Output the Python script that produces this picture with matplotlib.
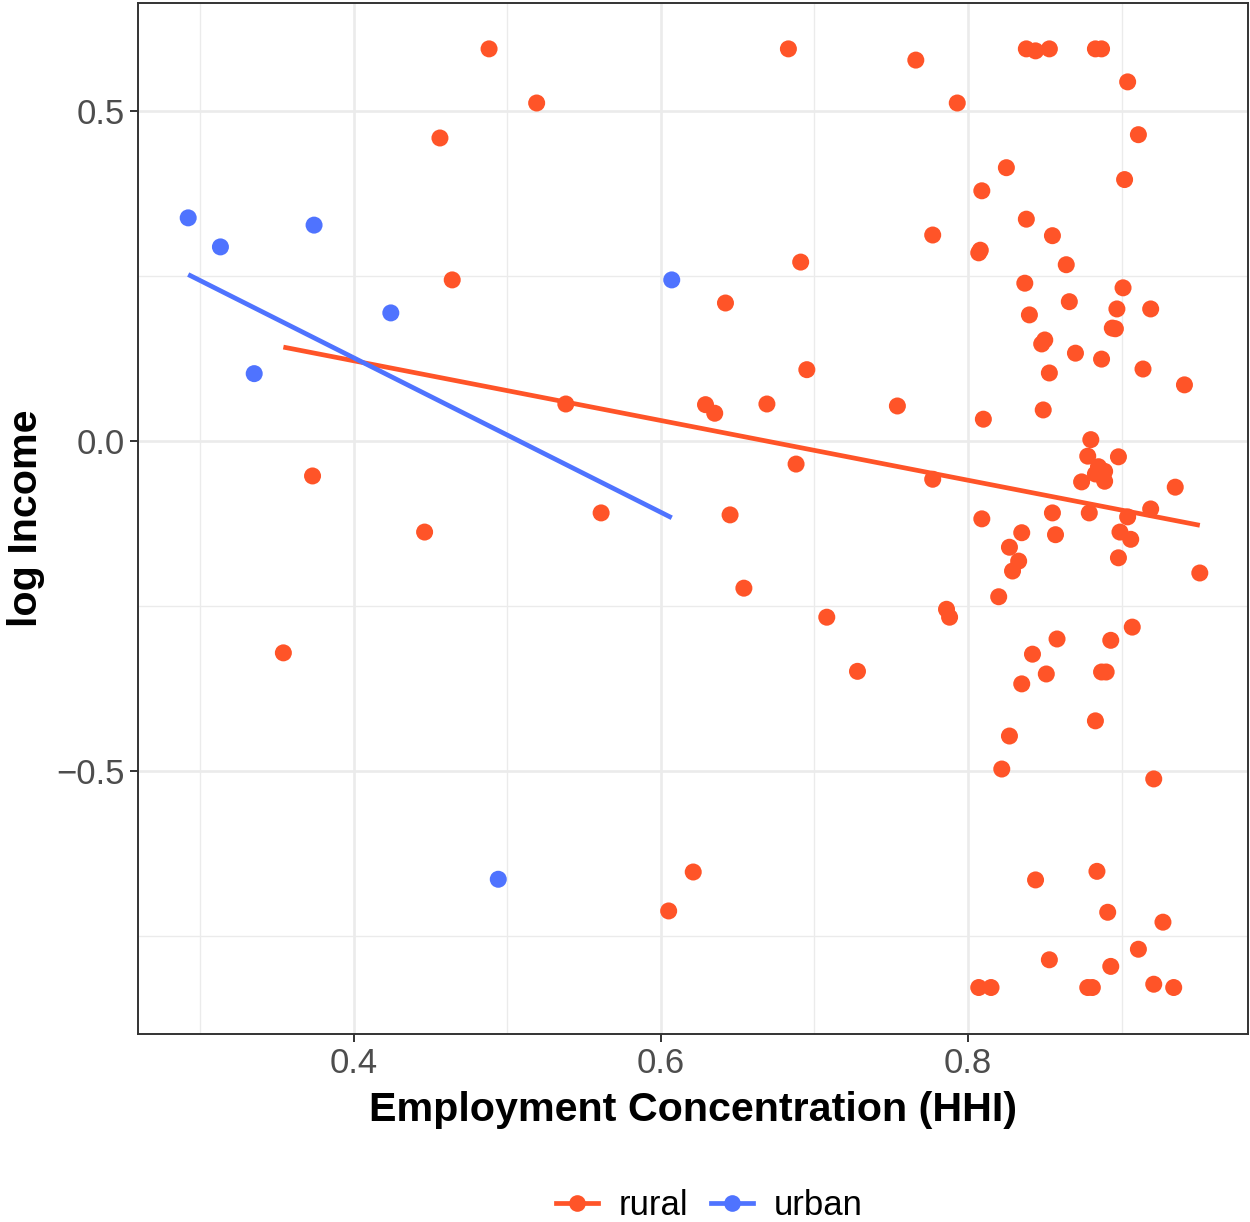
import numpy as np
import matplotlib
matplotlib.use("Agg")
import matplotlib.pyplot as plt
from matplotlib.lines import Line2D
from matplotlib.ticker import MultipleLocator

plt.rcParams['font.family'] = ['Liberation Sans', 'DejaVu Sans']

# county-level observations: employment HHI vs log income
rural_hhi = [
    0.488, 0.519, 0.456, 0.464, 0.373, 0.446, 0.354, 0.538, 0.561, 0.605,
    0.621, 0.642, 0.629, 0.635, 0.645, 0.654, 0.669, 0.683, 0.691, 0.695,
    0.688, 0.708, 0.728, 0.754, 0.766, 0.777, 0.777, 0.793, 0.786, 0.788,
    0.809, 0.808, 0.807, 0.810, 0.809, 0.807, 0.815, 0.825, 0.838, 0.844,
    0.853, 0.838, 0.837, 0.840, 0.855, 0.864, 0.866, 0.850, 0.848, 0.870,
    0.853, 0.887, 0.849, 0.883, 0.887, 0.904, 0.911, 0.902, 0.901, 0.919,
    0.897, 0.894, 0.896, 0.914, 0.941, 0.880, 0.878, 0.898, 0.885, 0.889,
    0.883, 0.874, 0.889, 0.935, 0.879, 0.855, 0.904, 0.919, 0.835, 0.857,
    0.899, 0.906, 0.827, 0.833, 0.829, 0.898, 0.951, 0.820, 0.858, 0.893,
    0.907, 0.842, 0.851, 0.887, 0.890, 0.835, 0.883, 0.827, 0.822, 0.921,
    0.884, 0.844, 0.891, 0.927, 0.911, 0.853, 0.893, 0.878, 0.881, 0.921,
    0.934,
]
rural_log_income = [
    0.594, 0.512, 0.459, 0.244, -0.053, -0.138, -0.321, 0.056, -0.109, -0.712,
    -0.653, 0.209, 0.055, 0.042, -0.112, -0.223, 0.056, 0.594, 0.271, 0.108,
    -0.035, -0.267, -0.349, 0.053, 0.577, 0.312, -0.058, 0.512, -0.255, -0.267,
    0.379, 0.289, 0.285, 0.033, -0.118, -0.828, -0.828, 0.414, 0.594, 0.591,
    0.594, 0.336, 0.239, 0.191, 0.311, 0.267, 0.211, 0.153, 0.147, 0.133,
    0.103, 0.124, 0.047, 0.594, 0.594, 0.544, 0.464, 0.396, 0.232, 0.200,
    0.200, 0.171, 0.170, 0.109, 0.085, 0.002, -0.023, -0.024, -0.039, -0.046,
    -0.050, -0.062, -0.061, -0.070, -0.109, -0.109, -0.115, -0.103, -0.139, -0.142,
    -0.138, -0.149, -0.161, -0.182, -0.197, -0.177, -0.200, -0.236, -0.300, -0.302,
    -0.282, -0.323, -0.353, -0.350, -0.350, -0.368, -0.424, -0.447, -0.497, -0.512,
    -0.652, -0.665, -0.714, -0.729, -0.770, -0.786, -0.796, -0.828, -0.828, -0.823,
    -0.828,
]
urban_hhi = [0.292, 0.313, 0.374, 0.335, 0.424, 0.607, 0.494]
urban_log_income = [0.338, 0.294, 0.327, 0.102, 0.194, 0.244, -0.664]

groups = ["rural", "urban"]
colors = {"rural": "#FF5428", "urban": "#4F73FF"}
data = {"rural": (rural_hhi, rural_log_income),
        "urban": (urban_hhi, urban_log_income)}

fig = plt.figure(figsize=(12.5, 12.22), dpi=100)
ax = fig.add_axes([0.1104, 0.1538, 0.888, 0.8438])

for g in groups:
    x = np.array(data[g][0])
    y = np.array(data[g][1])
    ax.scatter(x, y, s=150, color=colors[g], edgecolors="none", zorder=3)
    # least squares fit over the group's own x range
    slope, intercept = np.polyfit(x, y, 1)
    xs = np.array([x.min(), x.max()])
    ax.plot(xs, intercept + slope * xs, color=colors[g], lw=3.4,
            solid_capstyle="butt", zorder=4)

ax.set_xlim(0.2593, 0.9824)
ax.set_ylim(-0.8985, 0.6636)
ax.xaxis.set_major_locator(MultipleLocator(0.2))
ax.xaxis.set_minor_locator(MultipleLocator(0.1))
ax.yaxis.set_major_locator(MultipleLocator(0.5))
ax.yaxis.set_minor_locator(MultipleLocator(0.25))

ax.grid(which="major", color="#EBEBEB", lw=1.9, zorder=0)
ax.grid(which="minor", color="#EBEBEB", lw=0.95, zorder=0)
ax.set_axisbelow(True)

for sp in ax.spines.values():
    sp.set_color("#333333")
    sp.set_linewidth(1.4)

ax.tick_params(which="major", length=5.5, width=1.4, color="#333333",
               labelsize=25, labelcolor="#4D4D4D", pad=4)
ax.tick_params(which="minor", length=0)

ax.set_xlabel("Employment Concentration (HHI)", fontsize=29.7,
              fontweight="bold", labelpad=7.5)
ax.set_ylabel("log Income", fontsize=29.7, fontweight="bold", labelpad=8)

handles = [Line2D([0], [0], color=colors[g], lw=3.4, marker="o",
                  markersize=12, markeredgewidth=0) for g in groups]
fig.legend(handles, groups, loc="center", bbox_to_anchor=(0.5675, 0.0135),
           ncol=2, frameon=False, fontsize=25, handlelength=1.2,
           handletextpad=0.6, columnspacing=0.65)

fig.savefig("out.png", dpi=100)
